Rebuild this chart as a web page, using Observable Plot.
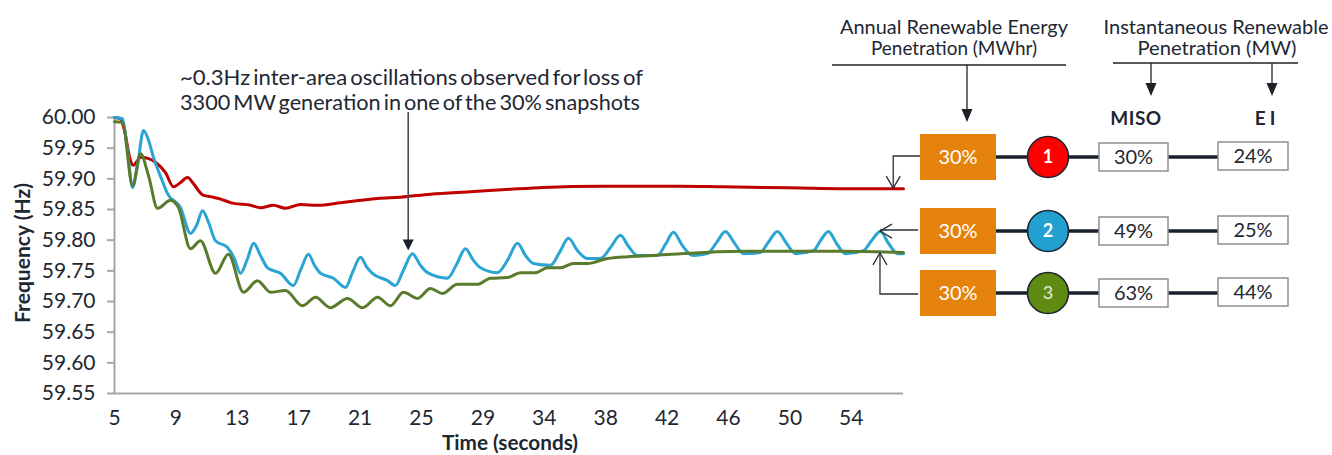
<!DOCTYPE html>
<html>
<head>
<meta charset="utf-8">
<script src="https://cdn.jsdelivr.net/npm/d3@7"></script>
<script src="https://cdn.jsdelivr.net/npm/@observablehq/plot@0.6"></script>
<style>
  html, body { margin: 0; padding: 0; background: #fff; }
  #wrap { position: relative; width: 1332px; height: 455px; font-family: Lato, "Noto Sans", sans-serif; }
  #wrap svg { position: absolute; left: 0; top: 0; overflow: visible; }
</style>
</head>
<body>
<div id="wrap"></div>
<script>
// Snapshot 1 (red): time in seconds, system frequency in Hz
const redTime = [5.00, 5.40, 5.66, 6.06, 6.26, 6.53, 6.73, 7.26, 7.72, 8.39, 8.92, 9.39, 9.85, 10.25, 10.85, 11.38, 11.91, 12.91, 14.04, 14.70, 15.56, 16.36, 17.36, 18.49, 20.02, 21.35, 22.48, 24.00, 26.00, 28.65, 31.31, 33.51, 37.29, 42.61, 45.40, 50.58, 53.11, 57.43];
const redFreq = [60.000, 59.998, 59.979, 59.930, 59.922, 59.930, 59.935, 59.933, 59.927, 59.910, 59.887, 59.894, 59.902, 59.892, 59.874, 59.871, 59.868, 59.860, 59.857, 59.853, 59.857, 59.852, 59.858, 59.857, 59.861, 59.865, 59.868, 59.870, 59.875, 59.879, 59.883, 59.886, 59.888, 59.888, 59.887, 59.885, 59.884, 59.884];

// Snapshot 2 (blue): ~0.3 Hz inter-area oscillation
const blueTime = [5.00, 5.53, 5.86, 6.20, 6.53, 6.93, 7.26, 7.59, 8.06, 8.52, 9.39, 10.05, 10.45, 10.85, 11.25, 11.71, 12.51, 12.97, 13.37, 13.84, 14.24, 14.70, 15.17, 16.03, 16.89, 17.36, 17.89, 18.29, 18.69, 19.55, 20.35, 20.81, 21.35, 21.74, 22.14, 23.14, 23.67, 24.20, 24.80, 25.33, 25.80, 27.13, 27.72, 28.32, 28.85, 29.32, 30.45, 31.11, 31.78, 32.31, 32.84, 33.97, 34.57, 35.17, 35.76, 36.43, 37.29, 37.96, 38.62, 39.15, 39.75, 41.08, 41.61, 42.14, 42.74, 43.41, 44.40, 45.00, 45.60, 46.20, 46.79, 47.92, 48.46, 49.05, 49.65, 50.25, 51.45, 51.91, 52.44, 52.97, 53.57, 54.77, 55.30, 55.90, 56.43, 57.03, 57.43];
const blueFreq = [60.000, 59.998, 59.946, 59.886, 59.922, 59.979, 59.963, 59.935, 59.904, 59.876, 59.853, 59.811, 59.824, 59.848, 59.829, 59.799, 59.788, 59.770, 59.746, 59.770, 59.795, 59.775, 59.755, 59.746, 59.726, 59.751, 59.777, 59.759, 59.746, 59.738, 59.723, 59.747, 59.772, 59.757, 59.746, 59.734, 59.726, 59.751, 59.778, 59.759, 59.747, 59.738, 59.760, 59.786, 59.767, 59.755, 59.747, 59.767, 59.795, 59.775, 59.762, 59.759, 59.780, 59.803, 59.783, 59.770, 59.770, 59.788, 59.808, 59.790, 59.775, 59.775, 59.793, 59.813, 59.791, 59.775, 59.778, 59.796, 59.814, 59.795, 59.778, 59.780, 59.797, 59.814, 59.795, 59.778, 59.783, 59.799, 59.814, 59.795, 59.778, 59.783, 59.799, 59.814, 59.795, 59.778, 59.778];

// Snapshot 3 (green)
const greenTime = [5.00, 5.53, 6.20, 6.73, 7.26, 7.86, 8.72, 9.25, 10.05, 10.71, 11.71, 12.57, 13.57, 14.50, 15.37, 16.36, 17.49, 18.36, 19.35, 20.48, 21.48, 22.48, 23.34, 24.20, 25.13, 26.00, 26.79, 27.79, 29.12, 29.98, 31.11, 31.98, 32.97, 33.77, 34.63, 35.50, 36.43, 37.76, 39.09, 40.81, 42.61, 46.79, 50.12, 53.44, 57.43];
const greenFreq = [59.993, 59.992, 59.889, 59.941, 59.905, 59.852, 59.865, 59.853, 59.786, 59.799, 59.746, 59.777, 59.715, 59.734, 59.715, 59.718, 59.693, 59.707, 59.690, 59.705, 59.690, 59.707, 59.693, 59.715, 59.705, 59.721, 59.713, 59.728, 59.728, 59.738, 59.739, 59.747, 59.747, 59.755, 59.755, 59.762, 59.762, 59.770, 59.773, 59.775, 59.778, 59.782, 59.782, 59.782, 59.780];

// Axis ticks
const yTicks = [59.55, 59.60, 59.65, 59.70, 59.75, 59.80, 59.85, 59.90, 59.95, 60.00];
const xTickTimes = [5, 9.08, 13.16, 17.24, 21.32, 25.40, 29.48, 33.56, 37.64, 41.72, 45.80, 49.88, 53.96];
const xTickLabels = ["5", "9", "13", "17", "21", "25", "29", "34", "38", "42", "46", "50", "54"];

// Penetration table for each snapshot
const snapshotIds = ["1", "2", "3"];
const annualPct = ["30%", "30%", "30%"];
const misoPct = ["30%", "49%", "63%"];
const eiPct = ["24%", "25%", "44%"];

const zip = (ts, fs) => ts.map((t, i) => ({t, f: fs[i]}));
const red = zip(redTime, redFreq);
const blue = zip(blueTime, blueFreq);
const green = zip(greenTime, greenFreq);

const C = {red: "#c00000", blue: "#2aa4d3", green: "#5a7b2c", ink: "#1e2732", axis: "#a6a6a6"};

const chart = Plot.plot({
  width: 1332,
  height: 455,
  marginLeft: 114,
  marginRight: 429,
  marginTop: 117,
  marginBottom: 62,
  style: {fontFamily: "Lato, 'Noto Sans', sans-serif", fontSize: "21px", color: C.ink, background: "transparent"},
  x: {domain: [5, 57.43]},
  y: {domain: [59.55, 60.0]},
  marks: [
    Plot.ruleY([59.55], {stroke: C.axis, strokeWidth: 2}),
    Plot.ruleX([5], {stroke: C.axis, strokeWidth: 2}),
    Plot.axisY({ticks: yTicks, tickFormat: d => d.toFixed(2), tickSize: 7, tickPadding: 12, stroke: C.axis, strokeWidth: 2, label: null}),
    Plot.axisX({ticks: xTickTimes, tickFormat: d => xTickLabels[xTickTimes.indexOf(d)], tickSize: 0, tickPadding: 17, label: null}),
    Plot.line(red, {x: "t", y: "f", stroke: C.red, strokeWidth: 3, curve: "monotone-x"}),
    Plot.line(blue, {x: "t", y: "f", stroke: C.blue, strokeWidth: 3, curve: "monotone-x"}),
    Plot.line(green, {x: "t", y: "f", stroke: C.green, strokeWidth: 3, curve: "monotone-x"})
  ]
});
document.getElementById("wrap").appendChild(chart);

const sx = chart.scale("x"), sy = chart.scale("y");
const X = t => sx.apply(t), Y = f => sy.apply(f);

// Overlay: axis titles, annotation and the penetration diagram
const svg = d3.select("#wrap").append("svg")
  .attr("width", 1332).attr("height", 455)
  .style("font-family", "Lato, 'Noto Sans', sans-serif")
  .style("pointer-events", "none");

const txt = (x, y, s, o = {}) => {
  const t = svg.append("text").attr("x", x).attr("y", y).text(s)
    .attr("fill", o.fill || C.ink)
    .attr("font-size", o.size || 19)
    .attr("font-weight", o.weight || "normal")
    .attr("text-anchor", o.anchor || "middle");
  if (o.len) t.attr("textLength", o.len).attr("lengthAdjust", o.adjust || "spacingAndGlyphs");
  if (o.ls) t.attr("letter-spacing", o.ls);
  if (o.ws) t.attr("word-spacing", o.ws);
  if (o.dy) t.attr("dy", o.dy);
  return t;
};

// axis titles
txt(510, 450, "Time (seconds)", {size: 20, weight: "bold", len: 136});
svg.append("text").attr("transform", "translate(30,253) rotate(-90)")
  .attr("text-anchor", "middle").attr("font-size", 21).attr("font-weight", "bold")
  .attr("fill", C.ink).attr("textLength", 140).attr("lengthAdjust", "spacingAndGlyphs")
  .text("Frequency (Hz)");

// oscillation annotation
txt(180, 85, "~0.3Hz inter-area oscillations observed for loss of", {anchor: "start", size: 21.5, ws: -2.5, len: 463});
txt(180, 110, "3300 MW generation in one of the 30% snapshots", {anchor: "start", size: 21.5, ws: -2.5, len: 460});
const ax = X(24.55), tipY = Y(59.779) - 2;
svg.append("line").attr("x1", ax).attr("x2", ax).attr("y1", 112).attr("y2", tipY - 8)
  .attr("stroke", "#4a4f57").attr("stroke-width", 1.6);
const downHead = (x, y, w, h, fill) => svg.append("path")
  .attr("d", `M${x - w / 2},${y - h}L${x + w / 2},${y - h}L${x},${y}Z`).attr("fill", fill);
downHead(ax, tipY, 11, 11, "#1b2029");

// diagram headers
txt(954, 34, "Annual Renewable Energy", {size: 19, len: 228});
txt(954, 55, "Penetration (MWhr)", {size: 19, len: 166});
svg.append("line").attr("x1", 832).attr("x2", 1066).attr("y1", 65).attr("y2", 65).attr("stroke", "#222").attr("stroke-width", 1.3);
svg.append("line").attr("x1", 967).attr("x2", 967).attr("y1", 65).attr("y2", 110).attr("stroke", "#222").attr("stroke-width", 1.3);
downHead(967, 122, 11, 13, "#1b2029");

txt(1216, 34, "Instantaneous Renewable", {size: 19, len: 225});
txt(1217, 55, "Penetration (MW)", {size: 19, len: 159});
svg.append("line").attr("x1", 1113).attr("x2", 1298).attr("y1", 63).attr("y2", 63).attr("stroke", "#222").attr("stroke-width", 1.3);
for (const x of [1151, 1272]) {
  svg.append("line").attr("x1", x).attr("x2", x).attr("y1", 63).attr("y2", 84).attr("stroke", "#222").attr("stroke-width", 1.3);
  downHead(x, 96, 11, 13, "#1b2029");
}
txt(1136, 125, "MISO", {size: 19, weight: "bold", ls: 0.5});
txt(1267, 125, "EI", {size: 19, weight: "bold", ls: 4});

// rows of the diagram
const rowY = [157, 231, 293];
const circleFill = ["#ff0000", "#22a0d0", "#5f8b12"];
const circleText = ["#ffffff", "#ffffff", "#e6eed8"];
const circleWeight = ["bold", "bold", "normal"];
snapshotIds.forEach((id, i) => {
  const y = rowY[i];
  // thick connectors
  const seg = (x1, x2) => svg.append("line").attr("x1", x1).attr("x2", x2).attr("y1", y).attr("y2", y)
    .attr("stroke", "#19222c").attr("stroke-width", 3.5);
  seg(996, 1030); seg(1066, 1100); seg(1168, 1218);
  // annual share box
  svg.append("rect").attr("x", 920).attr("y", y - 23).attr("width", 76).attr("height", 46).attr("fill", "#e5820c");
  txt(958, y, annualPct[i], {fill: "#ffffff", size: 20, dy: "0.36em"});
  // snapshot marker
  svg.append("circle").attr("cx", 1048).attr("cy", y).attr("r", 20.5)
    .attr("fill", circleFill[i]).attr("stroke", "#1b2430").attr("stroke-width", 1.6);
  txt(1048, y, id, {fill: circleText[i], size: 18, weight: circleWeight[i], dy: "0.36em"});
  // MISO / EI boxes
  svg.append("rect").attr("x", 1099).attr("y", y - 14).attr("width", 69).attr("height", 28)
    .attr("fill", "#fff").attr("stroke", "#8f8f8f").attr("stroke-width", 1.5);
  txt(1133.5, y, misoPct[i], {size: 20, dy: "0.36em"});
  svg.append("rect").attr("x", 1218).attr("y", y - 15).attr("width", 70).attr("height", 28)
    .attr("fill", "#fff").attr("stroke", "#8f8f8f").attr("stroke-width", 1.5);
  txt(1253, y - 1, eiPct[i], {size: 20, dy: "0.36em"});
});

// pointers from the boxes to the ends of the traces
const thin = d => svg.append("path").attr("d", d).attr("fill", "none").attr("stroke", "#2b2f36").attr("stroke-width", 1.3);
const rx = X(56.78), ry = Y(redFreq[redFreq.length - 1]);
thin(`M920,${rowY[0] - 1}H${rx}V${ry}`);
thin(`M${rx - 7},${ry - 12}L${rx},${ry}L${rx + 7},${ry - 12}`);
const bx = X(55.90), by = Y(59.814);
thin(`M918,${rowY[1] - 1}H${bx}`);
thin(`M${bx + 12},${by - 7}L${bx},${by}L${bx + 12},${by + 7}`);
const gx = X(55.90), gy = Y(greenFreq[greenFreq.length - 1]) + 1;
thin(`M918,${rowY[2] + 1}H${gx}V${gy}`);
thin(`M${gx - 7},${gy + 12}L${gx},${gy}L${gx + 7},${gy + 12}`);
</script>
</body>
</html>
